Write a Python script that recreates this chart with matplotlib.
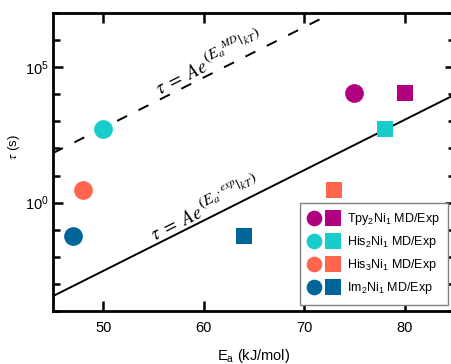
import matplotlib
matplotlib.use("Agg")
import numpy as np
import matplotlib.pyplot as plt
from matplotlib.lines import Line2D
from matplotlib.legend_handler import HandlerTuple
from matplotlib.ticker import FixedLocator, NullFormatter
from matplotlib.textpath import TextPath
from matplotlib.font_manager import FontProperties
from matplotlib.transforms import offset_copy

plt.rcParams['font.family'] = ['Liberation Sans', 'DejaVu Sans']
plt.rcParams['mathtext.fontset'] = 'stix'

# data
systems = ["Tpy", "His2", "His3", "Im2"]
labels = [r"Tpy$\mathregular{_2}$Ni$\mathregular{_1}$ MD/Exp",
          r"His$\mathregular{_2}$Ni$\mathregular{_1}$ MD/Exp",
          r"His$\mathregular{_3}$Ni$\mathregular{_1}$ MD/Exp",
          r"Im$\mathregular{_2}$Ni$\mathregular{_1}$ MD/Exp"]
colors = ["#B0007F", "#19CCCC", "#FF664D", "#006699"]
ea_md = [75.0, 50.0, 48.0, 47.0]
log_tau_md = [4.06, 2.71, 0.46, -1.23]
ea_exp = [80.0, 78.0, 73.0, 64.0]
log_tau_exp = [4.06, 2.72, 0.47, -1.23]

fit_ea = [45.0, 85.0]
fit_md_logtau = [1.83, 9.27]
fit_exp_logtau = [-3.45, 3.99]

fig = plt.figure(figsize=(4.52, 3.64), dpi=100)
ax = fig.add_axes([53 / 452, 53 / 364, 402 / 452, 298 / 364])

ax.plot(fit_ea, 10.0 ** np.array(fit_md_logtau), color='black', lw=1.4,
        dashes=(5.7, 6.6))
ax.plot(fit_ea, 10.0 ** np.array(fit_exp_logtau), color='black', lw=1.4)

handles = []
for i in range(len(systems)):
    ax.plot(ea_md[i], 10.0 ** log_tau_md[i], 'o', color=colors[i], ms=13.5, mew=0)
    ax.plot(ea_exp[i], 10.0 ** log_tau_exp[i], 's', color=colors[i], ms=11, mew=0)
    h1 = Line2D([], [], ls='none', marker='o', color=colors[i], ms=11.3, mew=0)
    h2 = Line2D([], [], ls='none', marker='s', color=colors[i], ms=11.3, mew=0)
    handles.append((h1, h2))


def eq_label(x, y, tag, angle=26.7, size=13.5, esize=11.5, rise=5.5):
    base = r'$\tau\ =\ Ae$'
    expo = r'$\left(E_a{}^{%s}|{}_{kT}\right)$' % tag
    w = TextPath((0, 0), base, size=size, prop=FontProperties(family='serif')).get_extents().width
    ax.text(x, y, base, rotation=angle, rotation_mode='anchor', ha='left',
            va='baseline', fontsize=size)
    a = np.deg2rad(angle)
    dx = (w + 1.0) * np.cos(a) - rise * np.sin(a)
    dy = (w + 1.0) * np.sin(a) + rise * np.cos(a)
    tr = offset_copy(ax.transData, fig=fig, x=dx, y=dy, units='points')
    ax.text(x, y, expo, transform=tr, rotation=angle, rotation_mode='anchor',
            ha='left', va='baseline', fontsize=esize)


eq_label(55.6, 10 ** 3.98, 'MD')
eq_label(55.1, 10 ** -1.41, ',exp')

ax.set_yscale('log')
ax.set_xlim(45, 85)
ax.set_ylim(1e-4, 1e7)
ax.set_xticks([50, 60, 70, 80])
ax.yaxis.set_major_locator(FixedLocator([1e0, 1e5]))
ax.yaxis.set_minor_locator(FixedLocator([10.0 ** k for k in range(-4, 8) if k not in (0, 5)]))
ax.yaxis.set_minor_formatter(NullFormatter())
ax.set_yticklabels([r'$\mathregular{10^{0}}$', r'$\mathregular{10^{5}}$'])

ax.tick_params(which='both', direction='in', top=True, right=True, width=1.8,
               labelsize=10.5)
ax.tick_params(which='major', length=7, pad=3)
ax.tick_params(axis='x', pad=7)
ax.tick_params(which='minor', length=5)
for s in ax.spines.values():
    s.set_linewidth(2.0)

ax.set_xlabel(r'E$\mathregular{_a}$ (kJ/mol)', fontsize=10.5)
ax.xaxis.set_label_coords(0.5, -0.12)
ax.set_ylabel(r'$\tau$ (s)', fontsize=9.5)
ax.yaxis.set_label_coords(-0.078, 0.55)

leg = ax.legend(handles, labels, handler_map={tuple: HandlerTuple(ndivide=None, pad=0.64)},
                loc='upper left', bbox_to_anchor=(0.6144, 0.3625), borderaxespad=0,
                fontsize=9, handlelength=2.4, handletextpad=0.68, borderpad=0.68,
                labelspacing=0.55, fancybox=False, framealpha=1, edgecolor='#808080')
leg.get_frame().set_linewidth(1.0)

fig.savefig('out.png', dpi=100)
